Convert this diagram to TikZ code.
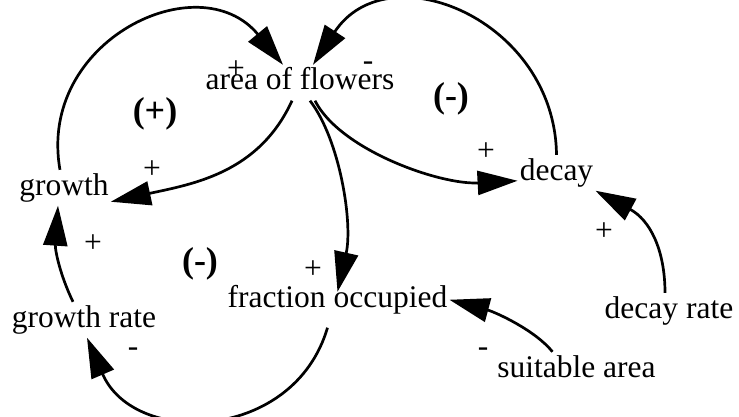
\documentclass[tikz,border=0pt]{standalone}
\usepackage{fontspec}
\setmainfont{Liberation Serif}
\usetikzlibrary{arrows.meta}
\begin{document}
\begin{tikzpicture}[x=1pt,y=-1pt,
  var/.style={font=\fontsize{31.5}{36}\selectfont, text height=21pt, text depth=6.5pt, inner xsep=2pt, inner ysep=4pt, anchor=base},
  sgn/.style={font=\fontsize{31.5}{36}\selectfont, inner sep=0pt},
  looplbl/.style={font=\fontsize{36}{40}\selectfont\bfseries, inner sep=0pt},
  arr/.style={line width=2.7pt, -{Triangle[length=40pt,width=24pt]}}]
\useasboundingbox (0,0) rectangle (739,417);
% variables
\node[var] (af)  at (300,90)  {area of flowers};
\node[var] (gr)  at (64,195)  {growth};
\node[var] (dc)  at (556.5,180) {decay};
\node[var] (fo)  at (337.5,307) {fraction occupied};
\node[var] (grr) at (84,327)  {growth rate};
\node[var] (drt) at (669,318) {decay rate};
\node[var] (sa)  at (576.5,377) {suitable area};
% connectors
\draw[arr] ([xshift=-4pt]gr.north) .. controls (37,41) and (199,-37) .. ([xshift=-17pt]af.north);
\draw[arr] ([xshift=-8pt]af.south) .. controls (259,173) and (193,184) .. ([yshift=-14pt]gr.east);
\draw[arr] (dc.north) .. controls (555,20) and (388,-49) .. ([xshift=13pt]af.north);
\draw[arr] ([xshift=15pt]af.south) .. controls (340,150) and (440,185) .. ([yshift=-8pt]dc.west);
\draw[arr] ([xshift=10pt]af.south) .. controls (340,140) and (353,223) .. ([yshift=-10pt]fo.north);
\draw[arr] ([xshift=-10pt,yshift=-10pt]fo.south) .. controls (294,442) and (134,447) .. ([xshift=3pt]grr.south);
\draw[arr] ([xshift=-11pt]grr.north) .. controls (60,275) and (55,250) .. ([xshift=-6pt]gr.south);
\draw[arr] ([xshift=-24pt]sa.north) .. controls (535,330) and (495,312) .. (fo.east);
\draw[arr] ([xshift=-4pt]drt.north) .. controls (665,250) and (650,220) .. (dc.south east);
% polarity signs
\node[sgn] (s1) at (236,70)  {+};
\node[sgn] (s2) at (368,66)  {-};
\node[sgn] (s3) at (152,170) {+};
\node[sgn] (s4) at (486,152) {+};
\node[sgn] (s5) at (93,244)  {+};
\node[sgn] (s6) at (313,270) {+};
\node[sgn] (s7) at (133,352) {-};
\node[sgn] (s8) at (483,352) {-};
\node[sgn] (s9) at (604,232) {+};
% loop labels
\node[looplbl] (l1) at (155,114) {(+)};
\node[looplbl] (l2) at (451,99)  {(-)};
\node[looplbl] (l3) at (200,264) {(-)};
\end{tikzpicture}
\end{document}
